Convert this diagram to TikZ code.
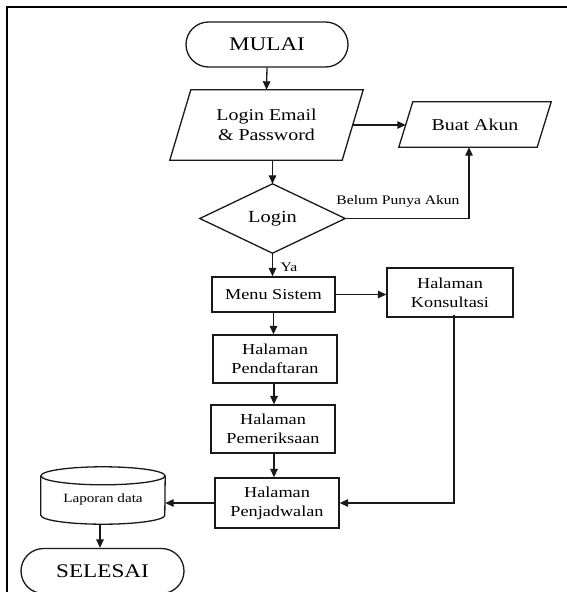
\documentclass[tikz,border=0pt]{standalone}
\usepackage{fontspec}
\setmainfont[FakeStretch=1.2]{Liberation Serif}
\usetikzlibrary{arrows.meta,calc,positioning}

\begin{document}
\begin{tikzpicture}[x=1pt,y=-1pt,
  line/.style={line width=1.3pt,draw=black!90},
  arr/.style={line, -{Triangle[length=8.5pt,width=7.5pt]}},
  box/.style={line, rectangle, inner sep=0pt, align=center},
  ghost/.style={rectangle, inner sep=0pt, align=center},
  term/.style={line, rectangle, rounded corners=22.5pt, inner sep=0pt, font=\fontsize{19.3}{22}\selectfont},
  fbig/.style={font=\fontsize{16.6}{19.5}\selectfont},
  fmid/.style={font=\fontsize{15.2}{19}\selectfont},
  fsmall/.style={font=\fontsize{13}{15}\selectfont},
  ftiny/.style={font=\fontsize{12.6}{14}\selectfont}]
  \useasboundingbox (0,0) rectangle (567,592);
  \clip (0,0) rectangle (567,592);
  \fill[white] (0,0) rectangle (567,592);

  % page frame
  \draw[line width=2.2pt] (7,600) -- (7,7) -- (580,7);

  % start / end terminals
  \node[term, minimum width=162pt, minimum height=45pt] (mulai) at (267,44.5) {MULAI};
  \node[term, minimum width=163pt, minimum height=45pt] (selesai) at (102.5,571) {SELESAI};

  % input parallelograms
  \node[ghost, fbig, minimum width=172pt, minimum height=70pt] (login) at (266.5,125) {Login Email\\\& Password};
  \draw[line] ($(login.south west)+(-10.5,0)$) -- ($(login.south east)+(-10.5,0)$)
    -- ($(login.north east)+(10.5,0)$) -- ($(login.north west)+(10.5,0)$) -- cycle;
  \node[ghost, fbig, minimum width=138pt, minimum height=45pt] (buat) at (475,124.5) {Buat Akun};
  \draw[line] ($(buat.south west)+(-7,0)$) -- ($(buat.south east)+(-7,0)$)
    -- ($(buat.north east)+(7,0)$) -- ($(buat.north west)+(7,0)$) -- cycle;

  % decision
  \node[ghost, font=\fontsize{17}{20}\selectfont, minimum width=145pt, minimum height=69pt] (cek) at (272.5,218.5) {Login};
  \draw[line] (cek.north) -- (cek.east) -- (cek.south) -- (cek.west) -- cycle;

  % process boxes
  \node[box, fmid, minimum width=123pt, minimum height=35pt] (menu) at (273.5,294.5) {Menu Sistem};
  \node[box, fmid, minimum width=126pt, minimum height=49pt] (kons) at (450,292.5) {Halaman\\Konsultasi};
  \node[box, fmid, minimum width=124pt, minimum height=48pt] (daftar) at (275,359) {Halaman\\Pendaftaran};
  \node[box, fmid, minimum width=124pt, minimum height=48pt] (periksa) at (273,429) {Halaman\\Pemeriksaan};
  \node[box, fmid, minimum width=124pt, minimum height=50pt] (jadwal) at (277,503) {Halaman\\Penjadwalan};

  % data store
  \node[ghost, minimum width=124pt, minimum height=57pt] (lapor) at (103,495.5) {};
  \draw[line] ($(lapor.north)+(0,9)$) ellipse [x radius=62, y radius=9];
  \draw[line] ($(lapor.north west)+(0,9)$) -- ($(lapor.south west)+(0,-9)$)
    arc[start angle=180, end angle=0, x radius=62, y radius=9]
    -- ($(lapor.north east)+(0,9)$);
  \node[ghost, ftiny] (laporlbl) at (103,499) {Laporan data};

  % labels
  \node[ghost, fsmall] (belum) at (398,201) {Belum Punya Akun};
  \node[ghost, fsmall] (ya) at (289,267) {Ya};

  % connectors
  \draw[arr] (mulai.south) -- (login.north);
  \draw[arr] (login.east) -- (login.east -| buat.west);
  \draw[arr] (cek.north |- login.south) -- (cek.north);
  \draw[arr] (cek.east) -| ([xshift=-6pt]buat.south);
  \draw[arr] (cek.south) -- (cek.south |- menu.north);
  \draw[arr] (menu.east) -- (menu.east -| kons.west);
  \draw[arr] (menu.south) -- (menu.south |- daftar.north);
  \draw[arr] ([xshift=-1pt]daftar.south) -- ([xshift=-1pt]daftar.south |- periksa.north);
  \draw[arr] ([xshift=1pt]periksa.south) -- ([xshift=1pt]periksa.south |- jadwal.north);
  \draw[arr] ([xshift=4pt,yshift=3pt]kons.south) -- ([xshift=4pt]kons.south |- jadwal.east) -- (jadwal.east);
  \draw[arr] (jadwal.west) -- (jadwal.west -| lapor.east);
  \draw[arr] ([xshift=-3pt]lapor.south) -- ([xshift=-3pt]lapor.south |- selesai.north);
\end{tikzpicture}
\end{document}
